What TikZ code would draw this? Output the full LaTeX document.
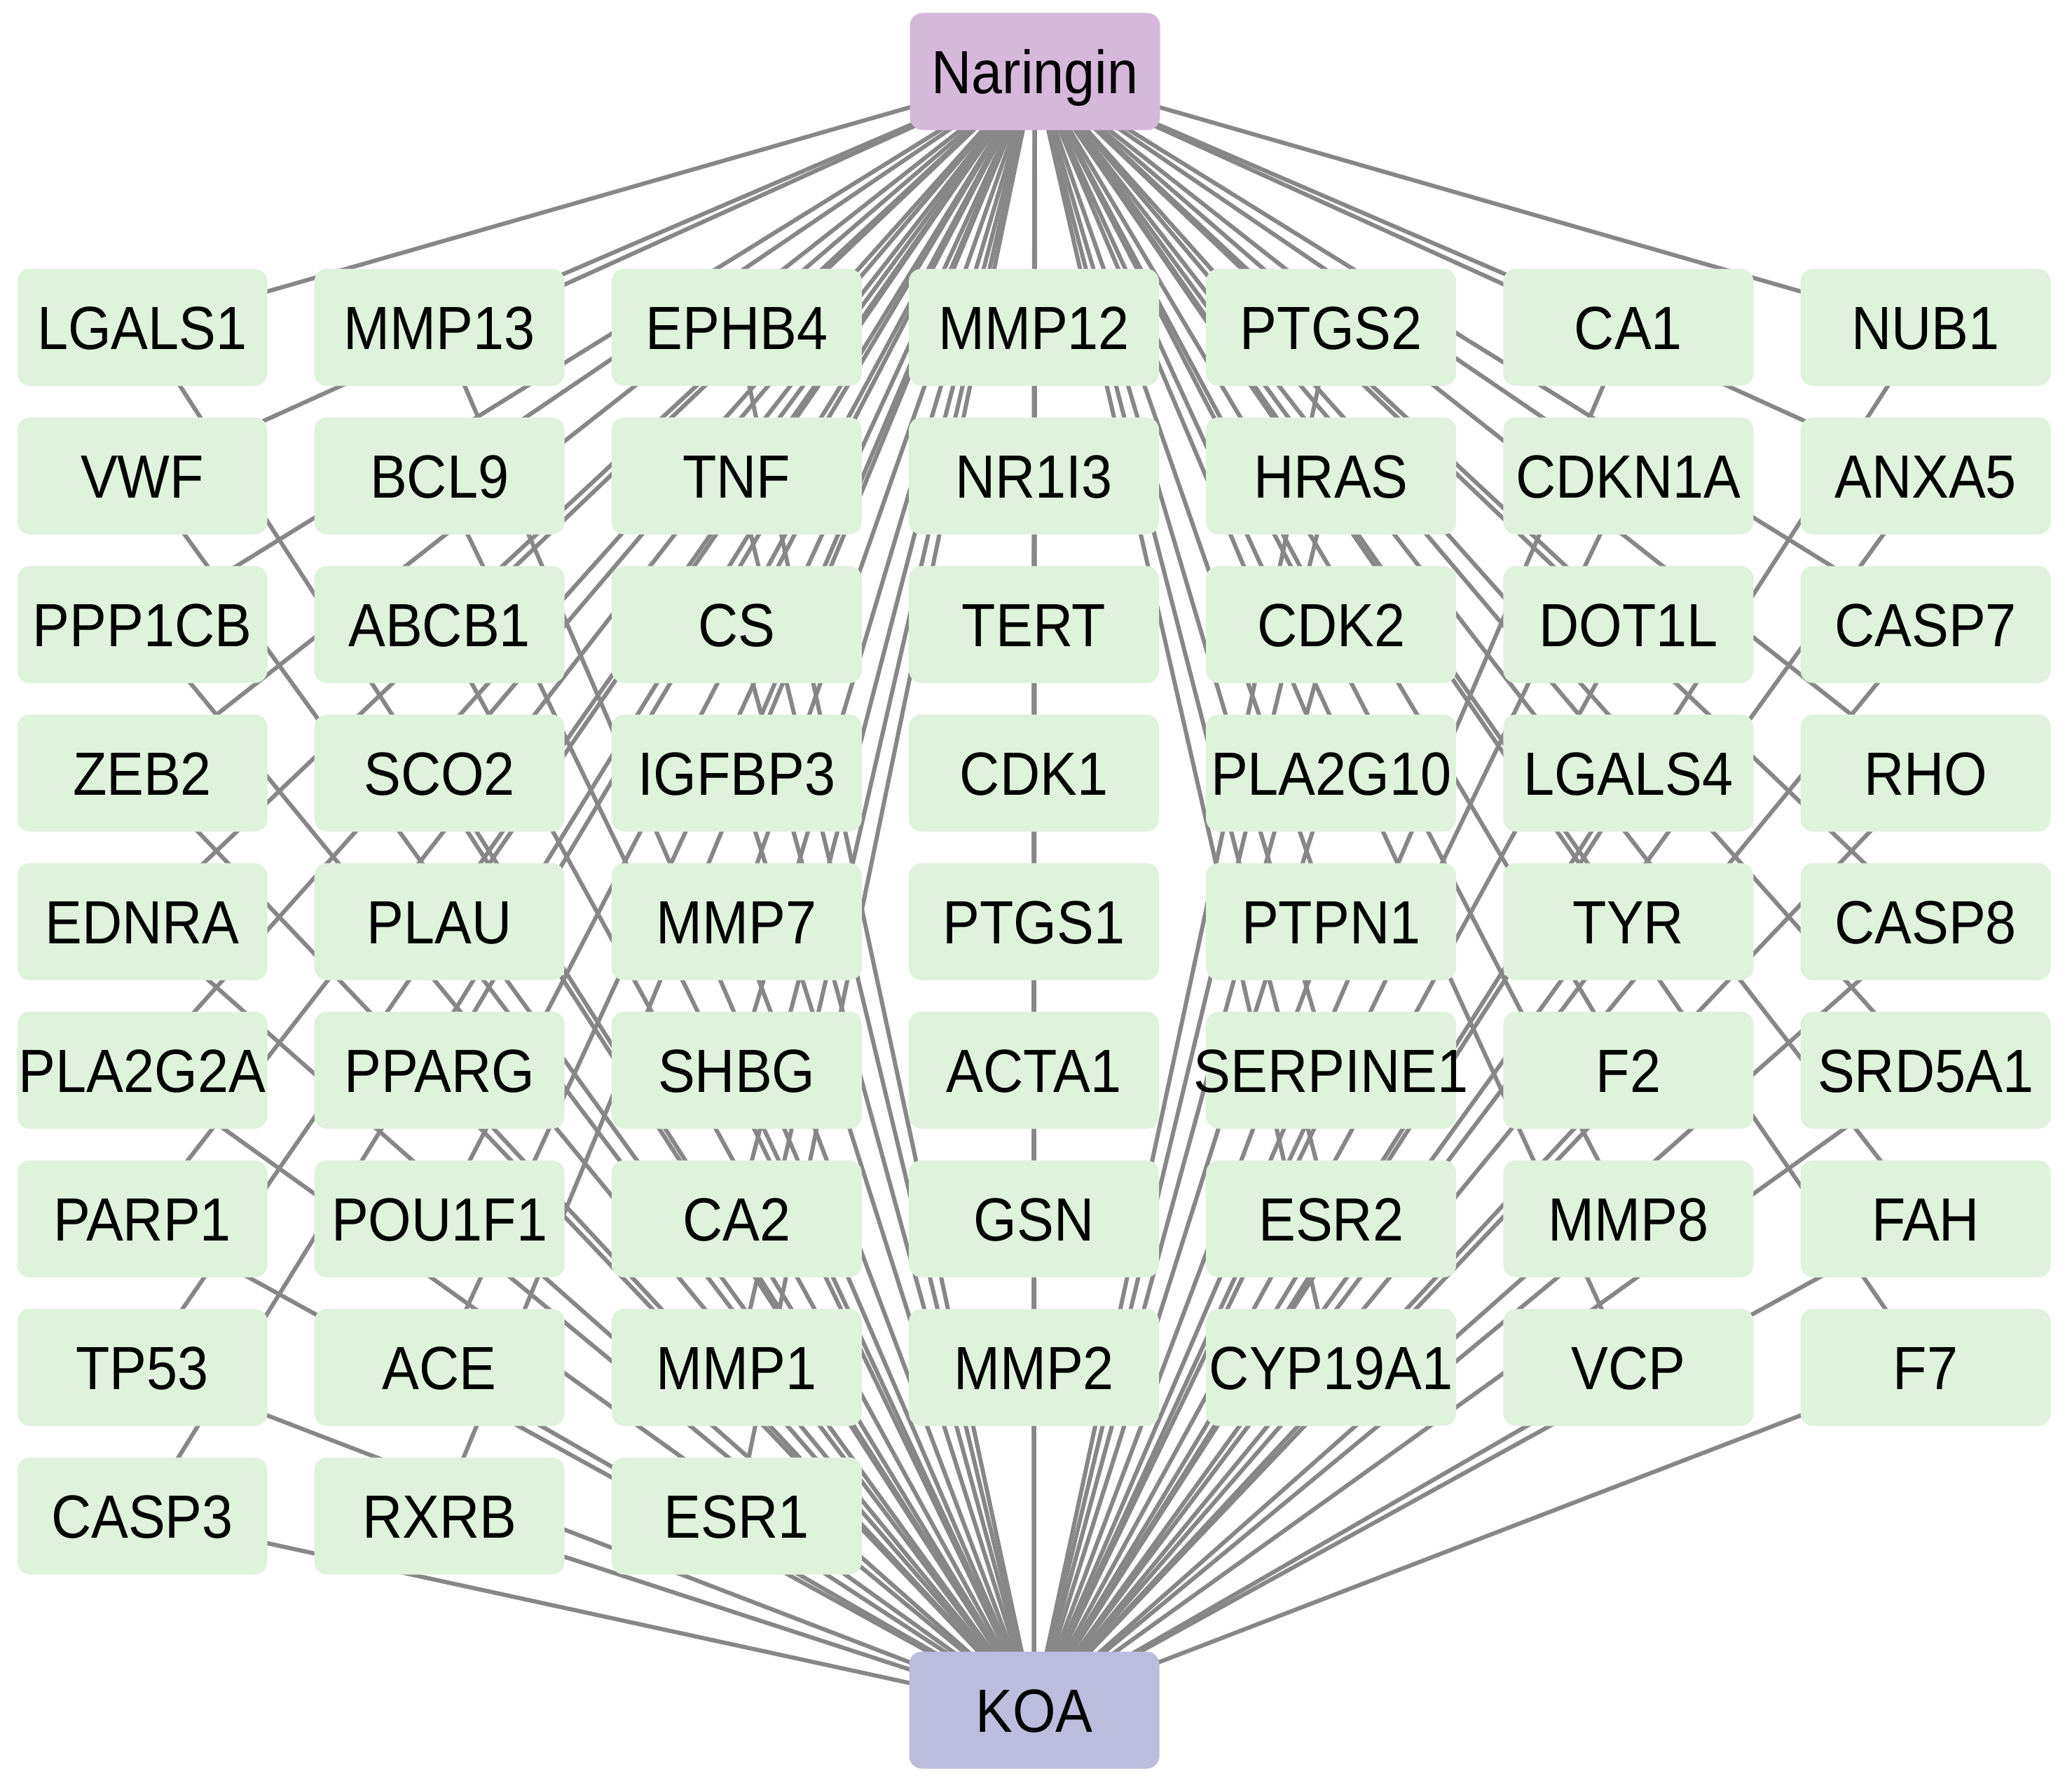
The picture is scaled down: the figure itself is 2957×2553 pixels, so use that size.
\documentclass[tikz,border=0pt]{standalone}
\usepackage{fontspec}
\setmainfont[FakeStretch=0.91]{Liberation Sans}
\usetikzlibrary{backgrounds}
\definecolor{gfill}{HTML}{DFF2DC}
\definecolor{nfill}{HTML}{D5B8DA}
\definecolor{kfill}{HTML}{BCBCDC}
\definecolor{edgec}{HTML}{878787}
\begin{document}
\begin{tikzpicture}[x=1pt,y=-1pt,
  box/.style={rounded corners=18pt, minimum width=357pt, minimum height=167pt, inner sep=0pt,
    text height=63pt, text depth=0pt, font=\fontsize{87}{100}\selectfont},
  gene/.style={box, fill=gfill},
  drug/.style={box, fill=nfill},
  dis/.style={box, fill=kfill},
  edge/.style={draw=edgec, line width=6pt}]
\useasboundingbox (0,0) rectangle (2957,2553);
\node[drug] (Naringin) at (1477,102) {Naringin};
\node[dis] (KOA) at (1476,2440) {KOA};
\foreach \colnames [count=\i] in {
  {LGALS1,VWF,PPP1CB,ZEB2,EDNRA,PLA2G2A,PARP1,TP53,CASP3},
  {MMP13,BCL9,ABCB1,SCO2,PLAU,PPARG,POU1F1,ACE,RXRB},
  {EPHB4,TNF,CS,IGFBP3,MMP7,SHBG,CA2,MMP1,ESR1},
  {MMP12,NR1I3,TERT,CDK1,PTGS1,ACTA1,GSN,MMP2},
  {PTGS2,HRAS,CDK2,PLA2G10,PTPN1,SERPINE1,ESR2,CYP19A1},
  {CA1,CDKN1A,DOT1L,LGALS4,TYR,F2,MMP8,VCP},
  {NUB1,ANXA5,CASP7,RHO,CASP8,SRD5A1,FAH,F7}} {
  \foreach \name [count=\j] in \colnames {
    \node[gene] (\name) at ({203+424.17*(\i-1)}, {467+212*(\j-1)}) {\makebox[0pt][c]{\name}};
    \begin{scope}[on background layer]
      \draw[edge] (Naringin.center) -- (\name.center) -- (KOA.center);
    \end{scope}
  }
}
\end{tikzpicture}
\end{document}
